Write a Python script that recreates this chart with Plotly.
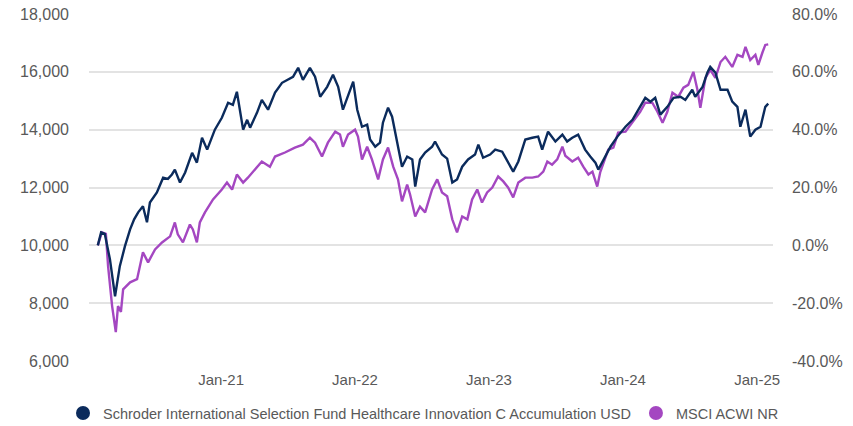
import plotly.graph_objects as go

FUND_NAME = "Schroder International Selection Fund Healthcare Innovation C Accumulation USD"
INDEX_NAME = "MSCI ACWI NR"

fund_dates = [
    "2020-01-31", "2020-02-09", "2020-02-19", "2020-02-28", "2020-03-04", "2020-03-18",
    "2020-03-31", "2020-04-14", "2020-04-28", "2020-05-09", "2020-05-20", "2020-06-02",
    "2020-06-13", "2020-06-21", "2020-07-10", "2020-07-27", "2020-08-09", "2020-08-20",
    "2020-08-28", "2020-09-11", "2020-09-25", "2020-10-14", "2020-10-27", "2020-11-10",
    "2020-11-24", "2020-12-15", "2021-01-03", "2021-01-20", "2021-02-02", "2021-02-13",
    "2021-02-21", "2021-03-02", "2021-03-13", "2021-03-21", "2021-04-09", "2021-04-22",
    "2021-05-09", "2021-05-28", "2021-06-16", "2021-07-02", "2021-07-16", "2021-07-30",
    "2021-08-12", "2021-08-31", "2021-09-14", "2021-09-28", "2021-10-17", "2021-11-02",
    "2021-11-16", "2021-11-29", "2021-12-13", "2021-12-27", "2022-01-07", "2022-01-20",
    "2022-02-03", "2022-02-11", "2022-02-25", "2022-03-10", "2022-03-18", "2022-04-01",
    "2022-04-12", "2022-04-26", "2022-05-09", "2022-05-23", "2022-06-06", "2022-06-14",
    "2022-06-27", "2022-07-11", "2022-07-30", "2022-08-07", "2022-08-26", "2022-09-09",
    "2022-09-23", "2022-10-06", "2022-10-20", "2022-11-05", "2022-11-24", "2022-12-03",
    "2022-12-16", "2023-01-04", "2023-01-18", "2023-02-06", "2023-02-22", "2023-03-08",
    "2023-03-22", "2023-04-10", "2023-04-29", "2023-05-15", "2023-05-26", "2023-06-11",
    "2023-07-01", "2023-07-20", "2023-08-02", "2023-08-16", "2023-09-01", "2023-09-20",
    "2023-10-04", "2023-10-18", "2023-10-26", "2023-11-09", "2023-11-28", "2023-12-17",
    "2024-01-08", "2024-01-27", "2024-02-12", "2024-03-02", "2024-03-16", "2024-03-29",
    "2024-04-12", "2024-05-01", "2024-05-18", "2024-06-06", "2024-06-19", "2024-07-08",
    "2024-07-16", "2024-08-05", "2024-08-18", "2024-08-26", "2024-09-09", "2024-09-23",
    "2024-10-12", "2024-10-25", "2024-11-08", "2024-11-16", "2024-11-30", "2024-12-13",
    "2024-12-27", "2025-01-10", "2025-01-23", "2025-01-31",
]
fund_values = [
    10000, 10450, 10400, 9760, 9520, 8240,
    9280, 9970, 10550, 10900, 11140, 11350,
    10800, 11480, 11830, 12340, 12300, 12450,
    12620, 12170, 12520, 13200, 12860, 13720,
    13310, 14000, 14410, 14930, 14860, 15310,
    14690, 14000, 14340, 14070, 14590, 15030,
    14690, 15280, 15620, 15720, 15830, 16140,
    15720, 16140, 15830, 15140, 15480, 15900,
    15480, 14690, 15140, 15660, 14690, 14100,
    14170, 13660, 13410, 13550, 14240, 14760,
    14450, 13550, 12720, 13070, 12970, 12030,
    12970, 13210, 13410, 13590, 13140, 13000,
    12170, 12280, 12720, 12970, 13140, 13480,
    13030, 13140, 13310, 13240, 12860, 12550,
    12900, 13660, 13720, 13760, 13310, 13930,
    13590, 13830, 13590, 13720, 13830, 13310,
    13070, 12860, 12620, 12970, 13410, 13760,
    14100, 14340, 14690, 15100, 14970, 15100,
    14520, 14790, 15100, 15140, 15030, 15380,
    15140, 15480, 15970, 16170, 15970, 15380,
    15380, 14970, 14790, 14100, 14690, 13760,
    14000, 14100, 14790, 14900,
]

index_dates = [
    "2020-01-31", "2020-02-11", "2020-02-22", "2020-02-28", "2020-03-10", "2020-03-20",
    "2020-03-26", "2020-04-03", "2020-04-09", "2020-04-28", "2020-05-17", "2020-06-02",
    "2020-06-16", "2020-07-05", "2020-07-24", "2020-08-15", "2020-08-28", "2020-09-05",
    "2020-09-19", "2020-10-08", "2020-10-16", "2020-10-27", "2020-11-04", "2020-11-18",
    "2020-12-10", "2021-01-03", "2021-01-17", "2021-01-31", "2021-02-13", "2021-03-02",
    "2021-03-15", "2021-04-03", "2021-04-22", "2021-05-14", "2021-05-28", "2021-06-24",
    "2021-07-21", "2021-08-12", "2021-08-31", "2021-09-14", "2021-10-03", "2021-10-19",
    "2021-11-08", "2021-11-21", "2021-11-29", "2021-12-13", "2022-01-01", "2022-01-09",
    "2022-01-20", "2022-02-03", "2022-02-16", "2022-03-05", "2022-03-18", "2022-04-01",
    "2022-04-15", "2022-04-28", "2022-05-09", "2022-05-23", "2022-05-31", "2022-06-14",
    "2022-06-27", "2022-07-11", "2022-07-30", "2022-08-13", "2022-08-26", "2022-09-09",
    "2022-09-23", "2022-10-06", "2022-10-20", "2022-11-03", "2022-11-16", "2022-11-30",
    "2022-12-13", "2022-12-27", "2023-01-10", "2023-01-26", "2023-02-09", "2023-02-22",
    "2023-03-08", "2023-03-22", "2023-04-10", "2023-04-29", "2023-05-15", "2023-05-29",
    "2023-06-09", "2023-06-22", "2023-07-06", "2023-07-20", "2023-07-28", "2023-08-16",
    "2023-09-01", "2023-09-15", "2023-09-29", "2023-10-10", "2023-10-23", "2023-10-31",
    "2023-11-14", "2023-11-22", "2023-12-06", "2023-12-19", "2024-01-08", "2024-01-27",
    "2024-02-17", "2024-03-02", "2024-03-21", "2024-04-04", "2024-04-18", "2024-05-01",
    "2024-05-15", "2024-05-31", "2024-06-14", "2024-06-27", "2024-07-11", "2024-07-22",
    "2024-07-30", "2024-08-13", "2024-08-26", "2024-09-09", "2024-09-23", "2024-10-06",
    "2024-10-25", "2024-11-08", "2024-11-22", "2024-11-30", "2024-12-13", "2024-12-27",
    "2025-01-04", "2025-01-15", "2025-01-23", "2025-01-31",
]
index_values = [
    10000, 10450, 10400, 9280, 7900, 7000,
    7900, 7700, 8480, 8720, 8830, 9760,
    9410, 9860, 10100, 10310, 10790, 10380,
    10100, 10720, 10550, 10100, 10790, 11140,
    11590, 11930, 12170, 11930, 12450, 12170,
    12340, 12620, 12900, 12720, 13070, 13210,
    13380, 13480, 13720, 13550, 13070, 13550,
    13930, 13830, 13410, 13830, 14000, 13760,
    12970, 13410, 12970, 12280, 12970, 13380,
    12720, 12280, 11520, 12100, 11760, 11000,
    11340, 11140, 11930, 12280, 11830, 11700,
    10900, 10450, 11000, 10900, 11590, 11930,
    11480, 11830, 12000, 12380, 12210, 12000,
    11660, 12170, 12340, 12340, 12380, 12550,
    12900, 12790, 12970, 13410, 13100, 12900,
    13030, 12720, 12450, 12550, 12030, 12520,
    13070, 13310, 13380, 13900, 13930, 14240,
    14620, 14930, 14930, 14620, 14240, 14620,
    15280, 15140, 15450, 15550, 16000, 15380,
    14760, 15790, 16070, 15790, 16340, 16520,
    16170, 16590, 16520, 16860, 16410, 16590,
    16240, 16660, 16930, 16950,
]

left_ticks = [6000, 8000, 10000, 12000, 14000, 16000, 18000]
right_ticks = [-40, -20, 0, 20, 40, 60, 80]
x_ticks = ["2021-01-01", "2022-01-01", "2023-01-01", "2024-01-01", "2025-01-01"]
x_ticklabels = ["Jan-21", "Jan-22", "Jan-23", "Jan-24", "Jan-25"]
x_range = ["2020-01-07", "2025-02-13"]

NAVY = "#0b2b5c"
PURPLE = "#a447c1"
GRID = "#e3e3e3"
TEXT = "#595959"
FONT = "Liberation Sans, Arial, sans-serif"

fig = go.Figure()
fig.add_trace(go.Scatter(x=index_dates, y=index_values, mode="lines",
                         line=dict(color=PURPLE, width=2.4), showlegend=False,
                         name=INDEX_NAME))
fig.add_trace(go.Scatter(x=fund_dates, y=fund_values, mode="lines",
                         line=dict(color=NAVY, width=2.4), showlegend=False,
                         name=FUND_NAME))
# legend entries (circle markers)
fig.add_trace(go.Scatter(x=[None], y=[None], mode="markers",
                         marker=dict(color=NAVY, size=14), name=FUND_NAME))
fig.add_trace(go.Scatter(x=[None], y=[None], mode="markers",
                         marker=dict(color=PURPLE, size=14), name=INDEX_NAME))
# invisible trace to anchor right axis
fig.add_trace(go.Scatter(x=[None], y=[None], yaxis="y2", showlegend=False))

fig.update_layout(
    width=853, height=426,
    margin=dict(l=89, r=80, t=14, b=65, autoexpand=False),
    paper_bgcolor="white", plot_bgcolor="white",
    font=dict(family=FONT, size=15, color=TEXT),
    xaxis=dict(type="date", range=x_range, tickvals=x_ticks, ticktext=x_ticklabels,
               showgrid=False, zeroline=False, showline=False, ticks="",
               automargin=False, ticklabelstandoff=8,
               tickfont=dict(size=15, color=TEXT)),
    yaxis=dict(range=[6000, 18000], tickvals=left_ticks,
               ticktext=[f"{v:,}" for v in left_ticks],
               showgrid=True, gridcolor=GRID, gridwidth=1.5, zeroline=False,
               showline=False, ticks="", automargin=False, ticklabelstandoff=19,
               tickfont=dict(size=16, color=TEXT)),
    yaxis2=dict(range=[-40, 80], overlaying="y", side="right", tickvals=right_ticks,
                ticktext=[f"{v:.1f}%" for v in right_ticks],
                showgrid=False, zeroline=False, showline=False, ticks="",
                automargin=False, ticklabelstandoff=18,
                tickfont=dict(size=16, color=TEXT)),
    legend=dict(orientation="h", x=-0.038, xanchor="left", y=-0.15, yanchor="middle",
                font=dict(size=14.5, color=TEXT), itemsizing="trace",
                tracegroupgap=0, bgcolor="rgba(0,0,0,0)"),
)

fig.write_html("out.html", config={"displayModeBar": False},
               post_script="document.body.style.margin='0';")
